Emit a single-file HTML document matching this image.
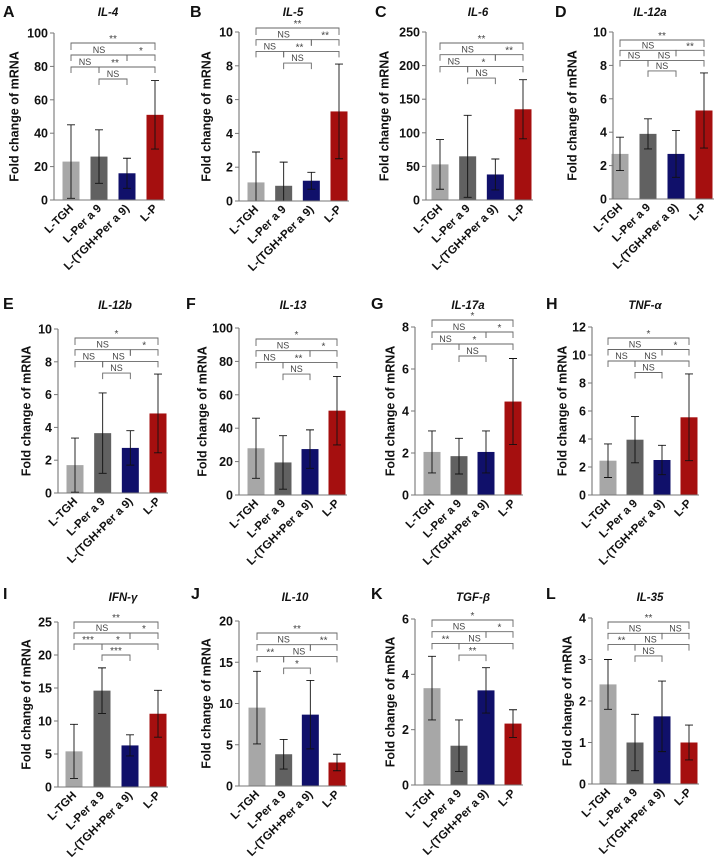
<!DOCTYPE html>
<html><head><meta charset="utf-8"><style>
html,body{margin:0;padding:0;background:#fff;}
svg{display:block;font-family:"Liberation Sans",Arial,sans-serif;}
</style></head><body>
<svg id="fig" width="720" height="863" viewBox="0 0 720 863" xmlns="http://www.w3.org/2000/svg"></svg>
<script>
const categories = ["L-TGH","L-Per a 9","L-(TGH+Per a 9)","L-P"];
const barColors = ["#a7a7a7","#616161","#10106a","#a50f0f"];

const meanA=[23,26,16,51];      const sdA=[22,16,9,20.5];     const ticksA=[0,20,40,60,80,100];
const meanB=[1.1,0.9,1.2,5.3];  const sdB=[1.8,1.4,0.5,2.8];  const ticksB=[0,2,4,6,8,10];
const meanC=[53,65,38,135];     const sdC=[37,61,23,44];      const ticksC=[0,50,100,150,200,250];
const meanD=[2.7,3.9,2.7,5.3];  const sdD=[1,0.9,1.4,2.25];   const ticksD=[0,2,4,6,8,10];
const meanE=[1.7,3.65,2.75,4.85]; const sdE=[1.65,2.45,1.05,2.4]; const ticksE=[0,2,4,6,8,10];
const meanF=[28,19.5,27.5,50.5]; const sdF=[18,16,11.5,20.5]; const ticksF=[0,20,40,60,80,100];
const meanG=[2.05,1.85,2.05,4.45]; const sdG=[1,0.85,1,2.05]; const ticksG=[0,2,4,6,8];
const meanH=[2.45,3.95,2.5,5.55]; const sdH=[1.2,1.65,1.05,3.1]; const ticksH=[0,2,4,6,8,10,12];
const meanI=[5.4,14.6,6.3,11.1]; const sdI=[4.1,3.45,1.6,3.55]; const ticksI=[0,5,10,15,20,25];
const meanJ=[9.5,3.85,8.65,2.85]; const sdJ=[4.4,1.8,4.15,1]; const ticksJ=[0,5,10,15,20];
const meanK=[3.5,1.42,3.42,2.22]; const sdK=[1.15,0.93,0.82,0.5]; const ticksK=[0,2,4,6];
const meanL=[2.4,1.0,1.63,1.0]; const sdL=[0.6,0.68,0.85,0.42]; const ticksL=[0,1,2,3,4];

// significance labels: [1-4, 1-3, 3-4, 1-2, 2-4, 2-3]
const sigA=["**","NS","*","NS","**","NS"];
const sigB=["**","NS","**","NS","**","NS"];
const sigC=["**","NS","**","NS","*","NS"];
const sigD=["**","NS","**","NS","NS","NS"];
const sigE=["*","NS","*","NS","NS","NS"];
const sigF=["*","NS","*","NS","**","NS"];
const sigG=["*","NS","*","NS","*","NS"];
const sigH=["*","NS","*","NS","NS","NS"];
const sigI=["**","NS","*","***","*","***"];
const sigJ=["**","NS","**","**","NS","*"];
const sigK=["*","NS","*","**","NS","**"];
const sigL=["**","NS","NS","**","NS","NS"];

const titles=["IL-4","IL-5","IL-6","IL-12a","IL-12b","IL-13","IL-17a","TNF-α","IFN-γ","IL-10","TGF-β","IL-35"];
const letters=["A","B","C","D","E","F","G","H","I","J","K","L"];
const means=[meanA,meanB,meanC,meanD,meanE,meanF,meanG,meanH,meanI,meanJ,meanK,meanL];
const sds=[sdA,sdB,sdC,sdD,sdE,sdF,sdG,sdH,sdI,sdJ,sdK,sdL];
const ticks=[ticksA,ticksB,ticksC,ticksD,ticksE,ticksF,ticksG,ticksH,ticksI,ticksJ,ticksK,ticksL];
const sigs=[sigA,sigB,sigC,sigD,sigE,sigF,sigG,sigH,sigI,sigJ,sigK,sigL];

// layout geometry (pixels)
const geo=[
 {ax:54,top:33,zero:200,c1:71,c4:155,yt:15,tx:108,ty:16,lx:3,ly:17,br:43,st:12},
 {ax:239,top:32,zero:201,c1:256,c4:339,yt:207,tx:293,ty:16,lx:190,ly:17,br:28,st:11.7},
 {ax:426,top:32,zero:200,c1:440,c4:523,yt:385,tx:478,ty:16,lx:375,ly:17,br:43,st:11.7},
 {ax:613,top:32,zero:199,c1:620,c4:704,yt:573,tx:650,ty:16,lx:555,ly:17,br:40,st:10.3},
 {ax:58,top:329,zero:493,c1:75,c4:158,yt:27,tx:115,ty:309,lx:3,ly:309,br:338,st:11.7},
 {ax:239,top:328,zero:495,c1:256,c4:337,yt:203,tx:293,ty:309,lx:186,ly:309,br:339,st:11.7},
 {ax:415,top:327,zero:495,c1:432,c4:513,yt:391,tx:468,ty:309,lx:371,ly:309,br:320,st:12},
 {ax:592,top:327,zero:495,c1:608,c4:689,yt:563,tx:645,ty:309,lx:546,ly:309,br:338,st:11.5},
 {ax:58,top:622,zero:787,c1:74,c4:158,yt:27,tx:123,ty:601,lx:3,ly:599,br:622,st:11},
 {ax:239,top:621,zero:786,c1:257,c4:337,yt:207,tx:295,ty:601,lx:191,ly:599,br:633,st:11.7},
 {ax:415,top:619,zero:785,c1:432,c4:513,yt:391,tx:473,ty:601,lx:371,ly:599,br:620,st:11.7},
 {ax:592,top:618,zero:784,c1:608,c4:689,yt:568,tx:650,ty:601,lx:546,ly:599,br:622,st:11.3}
];

const NS="http://www.w3.org/2000/svg";
const svg=document.getElementById('fig');
function mk(tag,attrs,parent){const e=document.createElementNS(NS,tag);for(const k in attrs)e.setAttribute(k,attrs[k]);(parent||svg).appendChild(e);return e;}

for(let p=0;p<12;p++){
  const g=geo[p], m=means[p], sd=sds[p], tk=ticks[p], sig=sigs[p];
  const ymax=tk[tk.length-1];
  const Y=v=>g.zero-(Math.max(0,v)/ymax)*(g.zero-g.top);
  const X=i=>g.c1+i*(g.c4-g.c1)/3;
  const grp=mk('g',{});
  
  

  const L=mk('text',{x:g.lx,y:g.ly,'font-size':16,'font-weight':'bold',fill:'#111'},grp);
  L.textContent=letters[p];
  
  

  const T=mk('text',{x:g.tx,y:g.ty,'font-size':11.5,'font-weight':'bold','font-style':'italic','text-anchor':'middle',fill:'#111'},grp);
  T.textContent=titles[p];
  
  

  const yc=(g.top+g.zero)/2;
  const YT=mk('text',{x:g.yt,y:yc,'font-size':12.5,'font-weight':'bold','text-anchor':'middle',fill:'#111',transform:`rotate(-90 ${g.yt} ${yc})`,'dominant-baseline':'middle'},grp);
  YT.textContent="Fold change of mRNA";
  
  

  for(let i=0;i<4;i++){
    const r=mk('rect',{x:X(i)-8.5,y:Y(m[i]),width:17,height:g.zero-Y(m[i]),fill:barColors[i]},grp);
    
    
    const hi=Y(m[i]+sd[i]), lo=Y(m[i]-sd[i]);
    const eb=mk('path',{d:`M${X(i)} ${hi}V${lo}M${X(i)-4} ${hi}H${X(i)+4}M${X(i)-4} ${lo}H${X(i)+4}`,stroke:'#111','stroke-width':0.9,fill:'none'},grp);
    
    
    const cx=X(i)+3, cy=g.zero+9;
    const ct=mk('text',{x:cx,y:cy,'font-size':11.5,'font-weight':'bold','text-anchor':'end',fill:'#111',transform:`rotate(-45 ${cx} ${cy})`},grp);
    ct.textContent=categories[i];
    
    
  }

  const ax=mk('path',{d:`M${g.ax} ${g.top}V${g.zero}H${g.c4+10}`,stroke:'#777','stroke-width':1.1,fill:'none'},grp);
  
  
  tk.forEach(v=>{
    mk('path',{d:`M${g.ax-4} ${Y(v)}H${g.ax}`,stroke:'#777','stroke-width':1},grp);
    const t=mk('text',{x:g.ax-6,y:Y(v)+4.5,'font-size':12.5,'font-weight':'bold','text-anchor':'end',fill:'#111'},grp);
    t.textContent=v;
    
    
  });

  // brackets: [from, to, level, label x anchor]
  const pairs=[[0,3,0,(X(0)+X(3))/2],[0,2,1,(X(0)+X(2))/2],[2,3,1,(X(2)+X(3))/2],[0,1,2,(X(0)+X(1))/2],[1,3,2,(X(1)+X(2))/2+2],[1,2,3,(X(1)+X(2))/2]];
  pairs.forEach((pr,k)=>{
    const x1=X(pr[0]), x2=X(pr[1]), y=g.br+pr[2]*g.st, tl=pr[2]===0?7:6;
    const b=mk('path',{d:`M${x1} ${y+tl}V${y}H${x2}V${y+tl}`,stroke:'#666','stroke-width':0.9,fill:'none'},grp);
    
    
    const isStar=sig[k].indexOf('*')>=0;
    const t=mk('text',{x:pr[3],y:isStar?y-1:y-2,'font-size':isStar?10:9,'text-anchor':'middle',fill:'#444'},grp);
    t.textContent=sig[k];
    
    
  });
}
</script>
</body></html>
